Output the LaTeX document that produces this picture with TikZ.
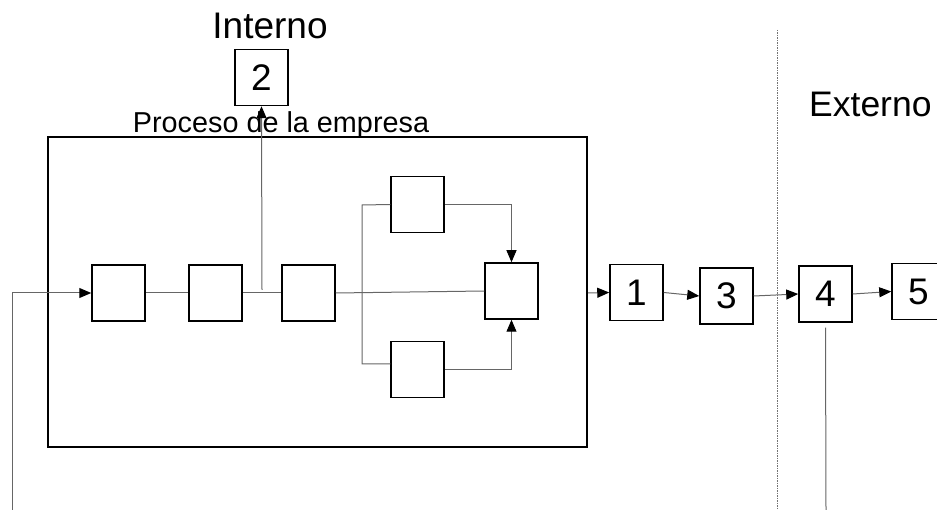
\documentclass[tikz,border=0pt]{standalone}
\usepackage{fontspec}
\setmainfont{Liberation Sans}
\usepackage{tikz}
\usetikzlibrary{arrows.meta, positioning, calc}

\begin{document}
\begin{tikzpicture}[x=1pt, y=-1pt,
    box/.style={draw, line width=1.5pt, minimum width=53pt, minimum height=56pt, inner sep=0pt,
        font=\fontsize{37}{37}\selectfont},
    link/.style={draw=black!60, line width=1pt},
    tip/.style={link, -{Triangle[length=12pt, width=10pt, color=black]}},
    big/.style={font=\fontsize{37}{37}\selectfont}]

    \useasboundingbox (0,0) rectangle (937,510);
    \clip (0,0) rectangle (937,510);

    %frame of the process
    \node[draw, line width=2pt, minimum width=539pt, minimum height=310pt] (empresa) at (317.5,292) {};
    \node[anchor=base, font=\fontsize{28.8}{29}\selectfont] (proceso) at (281,133) {Proceso de la empresa};

    %boxes inside
    \node[box] (a) at (118.5,293) {};
    \node[box] (b) at (215.5,293) {};
    \node[box] (c) at (308.5,293) {};
    \node[box] (e) at (417.5,204.5) {};
    \node[box] (f) at (417.5,369.5) {};
    \node[box] (d) at (511.5,291) {};

    %numbered boxes
    \node[box] (n2) at (261.5,77.5) {2};
    \node[box] (n1) at (636.5,292.5) {1};
    \node[box] (n3) at (726.5,296) {3};
    \node[box] (n4) at (825.5,294) {4};
    \node[box] (n5) at (918.5,291.5) {5};

    %labels
    \node[big, anchor=base] (interno) at (270,39) {Interno};
    \node[font=\fontsize{35.5}{36}\selectfont, anchor=base west, inner sep=0pt] (externo) at (809,117) {Externo};

    %border between inside and outside
    \draw[black!55, line width=0.8pt, dash pattern=on 1.5pt off 1pt] (777,30) -- (777,510);

    %coordinates for free ends
    \coordinate (entrada) at (12,510);
    \coordinate (salida) at (826,510);
    \coordinate (toma) at (262,290);
    \coordinate (split top) at (362,205);
    \coordinate (split bot) at (362,364);

    %connectors
    \draw[tip] (entrada) |- (a.west);
    \draw[link] (a) -- (b);
    \draw[link] (b) -- (c);
    \draw[link] (c.east) -- (d.west);
    \draw[tip] (toma) -- (n2.south);
    \draw[link] (e.west) -- (split top) -- (split bot) -- (f.west |- split bot);
    \draw[tip] (e.east) -| (d.north);
    \draw[tip] (f.east) -| (d.south);
    \draw[tip] (empresa.east |- 0,293) -- (n1.west);
    \draw[tip] (n1.east) -- (n3.west);
    \draw[tip] (n3.east) -- (n4.west);
    \draw[tip] (n4.east) -- (n5.west);
    \draw[link] ([yshift=-5pt]n4.south) -- (salida);

\end{tikzpicture}
\end{document}
